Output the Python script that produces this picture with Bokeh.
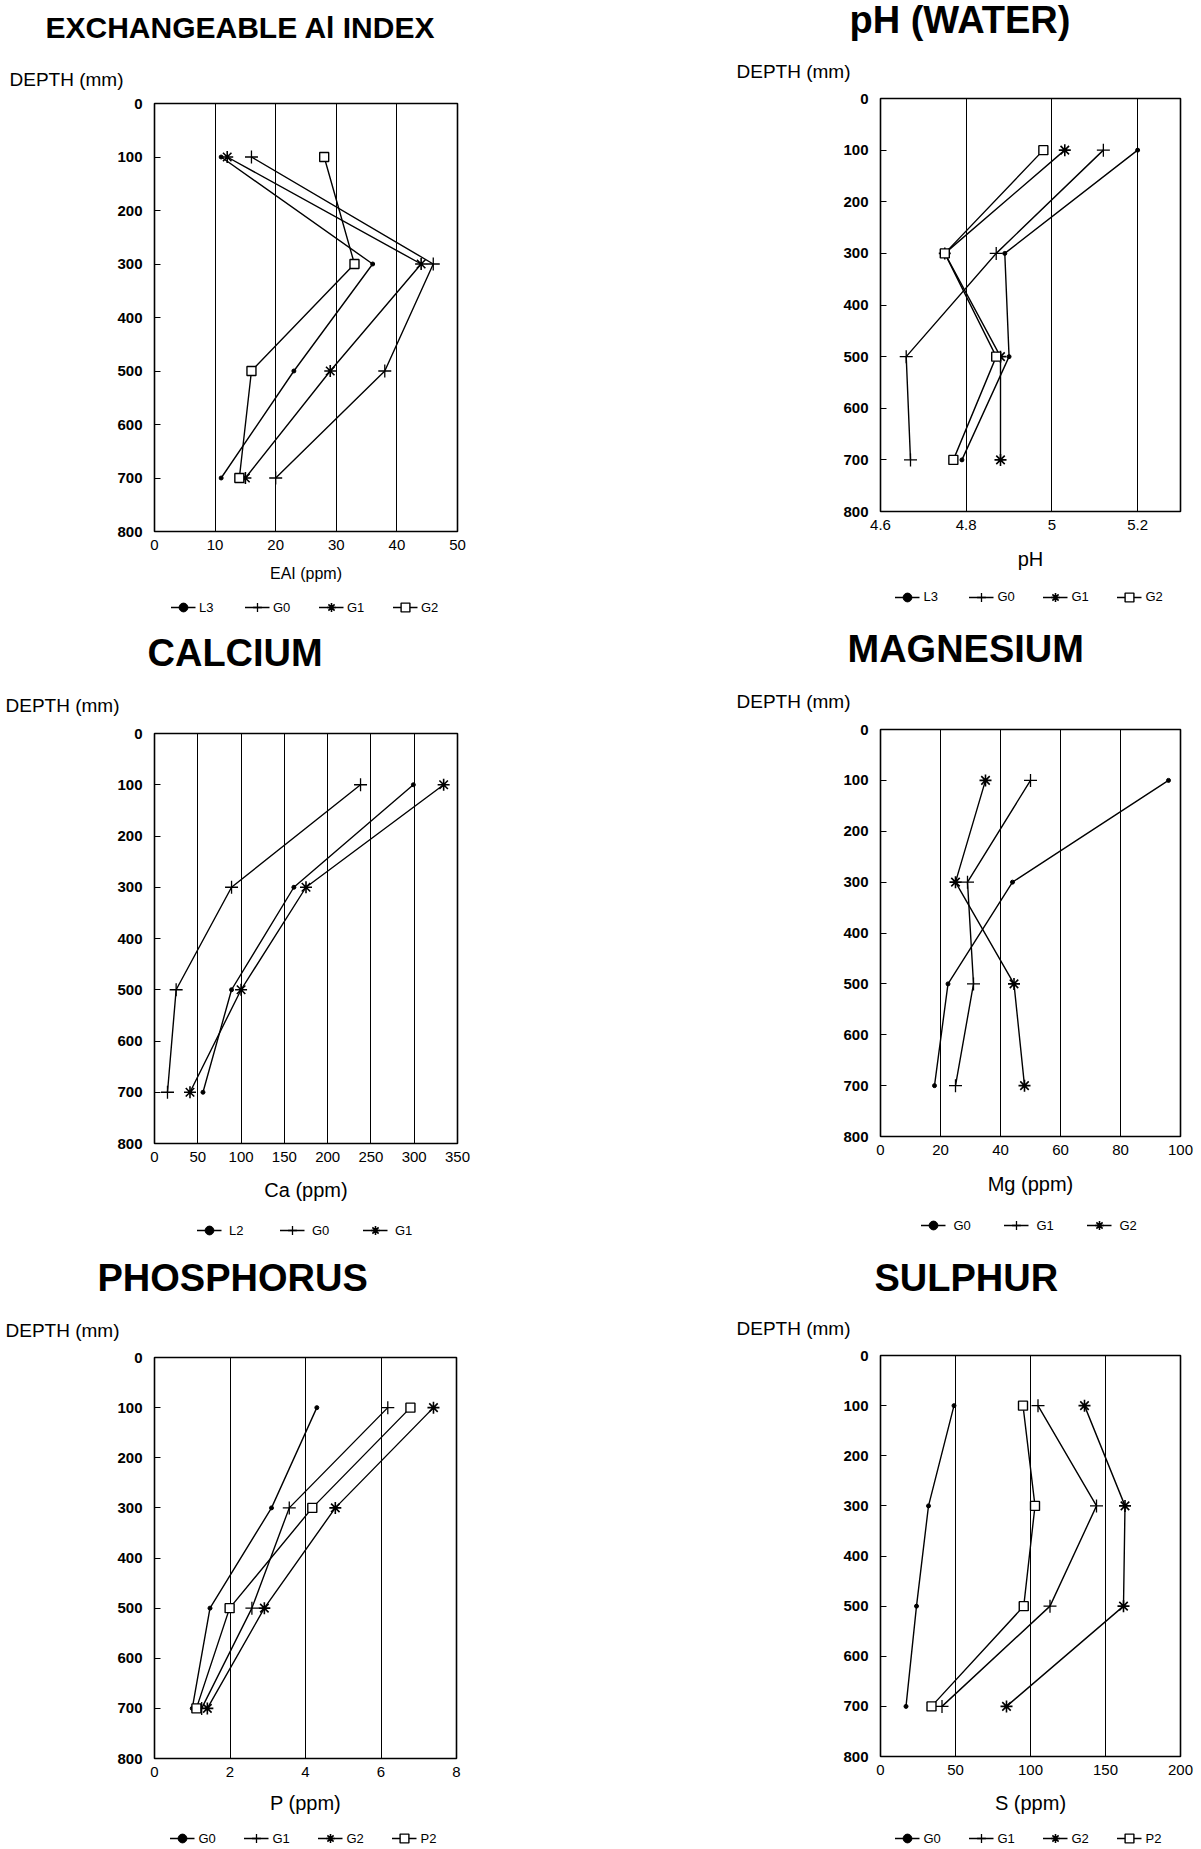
import math
from bokeh.plotting import figure
from bokeh.models import Legend, LegendItem, FixedTicker, Range1d, Title
from bokeh.layouts import column, row
from bokeh.embed import file_html
from bokeh.resources import INLINE

# ---------------- data ----------------
DEPTH = [100, 300, 500, 700]
DEPTH_TICKS = [0, 100, 200, 300, 400, 500, 600, 700, 800]

EAI_TICKS = [0, 10, 20, 30, 40, 50]
EAI_TICK_LABELS = ["0", "10", "20", "30", "40", "50"]
EAI_NAMES = ["L3", "G0", "G1", "G2"]
EAI_L3 = [11.0, 36.0, 23.0, 11.0]
EAI_G0 = [16.0, 46.0, 38.0, 20.0]
EAI_G1 = [12.0, 44.0, 29.0, 15.0]
EAI_G2 = [28.0, 33.0, 16.0, 14.0]

PH_TICKS = [4.6, 4.8, 5.0, 5.2]
PH_TICK_LABELS = ["4.6", "4.8", "5", "5.2"]
PH_NAMES = ["L3", "G0", "G1", "G2"]
PH_L3 = [5.20, 4.89, 4.90, 4.79]
PH_G0 = [5.12, 4.87, 4.66, 4.67]
PH_G1 = [5.03, 4.75, 4.88, 4.88]
PH_G2 = [4.98, 4.75, 4.87, 4.77]

CA_TICKS = [0, 50, 100, 150, 200, 250, 300, 350]
CA_TICK_LABELS = ["0", "50", "100", "150", "200", "250", "300", "350"]
CA_NAMES = ["L2", "G0", "G1"]
CA_L2 = [299, 161, 89, 56]
CA_G0 = [238, 89, 25, 15]
CA_G1 = [334, 175, 100, 41]

MG_TICKS = [0, 20, 40, 60, 80, 100]
MG_TICK_LABELS = ["0", "20", "40", "60", "80", "100"]
MG_NAMES = ["G0", "G1", "G2"]
MG_G0 = [96.0, 44.0, 22.5, 18.0]
MG_G1 = [50.0, 29.0, 31.0, 25.0]
MG_G2 = [35.0, 25.0, 44.5, 48.0]

P_TICKS = [0, 2, 4, 6, 8]
P_TICK_LABELS = ["0", "2", "4", "6", "8"]
P_NAMES = ["G0", "G1", "G2", "P2"]
P_G0 = [4.30, 3.10, 1.47, 1.00]
P_G1 = [6.18, 3.57, 2.58, 1.25]
P_G2 = [7.39, 4.79, 2.91, 1.40]
P_P2 = [6.78, 4.18, 1.99, 1.11]

S_TICKS = [0, 50, 100, 150, 200]
S_TICK_LABELS = ["0", "50", "100", "150", "200"]
S_NAMES = ["G0", "G1", "G2", "P2"]
S_G0 = [49, 32, 24, 17]
S_G1 = [105, 144, 113, 41]
S_G2 = [136, 163, 162, 84]
S_P2 = [95, 103, 95.5, 34]

# ---------------- styling ----------------
FONT = "Liberation Sans"
TITLE_FONT = "Liberation Sans"
EM = 1.117
DESC = 0.212
DEPTH_FS = 19
LEG_GLYPH_H = 22

MARKER_STYLE = {
    "dot": dict(marker="circle", size=4, fill_color="black", line_color="black"),
    "plus": dict(marker="cross", size=13, line_color="black", line_width=1.3),
    "star": dict(marker="asterisk", size=12, line_color="black", line_width=1.6),
    "square": dict(marker="square", size=9, fill_color="white", line_color="black", line_width=1.4),
}

ROW_W_LEFT = 593
PAGE_W = 1201


def make_panel(spec):
    (title, title_fs, xlabel, xlabel_fs, x_end, ticks, tick_labels, names, series, markers,
     col, row_top, row_h, f_left, f_top, f_w, f_h,
     title_left, title_base, depth_left, depth_mid, label_mid, leg_mid, leg_spacing, leg_standoff) = spec

    fig_left = 0 if col == 0 else ROW_W_LEFT
    W = ROW_W_LEFT if col == 0 else PAGE_W - ROW_W_LEFT
    bl = f_left - fig_left
    bt = f_top - row_top
    br = W - bl - f_w
    bb = row_h - bt - f_h

    tick_h = EM * 15
    lab_h = EM * xlabel_fs
    st = max(0, round(label_mid - 8 - tick_h - lab_h / 2))
    axis_h = 8 + tick_h + st + lab_h
    bb1 = max(math.ceil(axis_h) + 1, min(2 * leg_mid - bb, bb - LEG_GLYPH_H))
    LH = bb - bb1

    p = figure(frame_width=f_w, frame_height=f_h, title=None,
               x_range=Range1d(ticks[0], x_end), y_range=Range1d(800, 0),
               output_backend="svg", toolbar_location=None,
               min_border_left=bl, min_border_top=bt,
               min_border_right=br, min_border_bottom=bb1)
    p.background_fill_color = "white"
    p.border_fill_color = "white"
    p.outline_line_color = "black"
    p.outline_line_width = 1.6

    p.xaxis.ticker = FixedTicker(ticks=ticks)
    p.xaxis.major_label_overrides = {t: lab for t, lab in zip(ticks, tick_labels)}
    p.xaxis.major_tick_in = 0
    p.xaxis.major_tick_out = 0
    p.xaxis.minor_tick_line_color = None
    p.xaxis.major_label_standoff = 8
    p.xaxis.major_label_text_font = FONT
    p.xaxis.major_label_text_font_size = "15px"
    p.xaxis.major_label_text_color = "black"
    p.xaxis.axis_label = xlabel
    p.xaxis.axis_label_text_font = FONT
    p.xaxis.axis_label_text_font_style = "normal"
    p.xaxis.axis_label_text_font_size = f"{xlabel_fs}px"
    p.xaxis.axis_label_text_color = "black"
    p.xaxis.axis_label_standoff = st

    p.yaxis.ticker = FixedTicker(ticks=DEPTH_TICKS)
    p.yaxis.major_tick_in = 6
    p.yaxis.major_tick_out = 0
    p.yaxis.minor_tick_line_color = None
    p.yaxis.major_label_standoff = 12
    p.yaxis.major_label_text_font = FONT
    p.yaxis.major_label_text_font_style = "bold"
    p.yaxis.major_label_text_font_size = "15px"
    p.yaxis.major_label_text_color = "black"

    p.xgrid.ticker = FixedTicker(ticks=ticks)
    p.xgrid.grid_line_color = "black"
    p.ygrid.grid_line_color = None

    for xs, mk in zip(series, markers):
        p.line(xs, DEPTH, line_color="black", line_width=1.4)
        p.scatter(xs, DEPTH, **MARKER_STYLE[mk])

    # above: DEPTH title next to the frame, main title above it
    h1 = EM * DEPTH_FS
    h2 = EM * title_fs
    d2 = DESC * title_fs
    B = f_top - title_base
    C = f_top - depth_mid
    choice = None
    for c in (C, C - 1, C - 2, C - 3):
        P = 2 * c + 2
        s_b = 2 * (B - P - d2)
        if s_b >= 0 and P + 2 + h2 + s_b <= bt + 0.5:
            choice = (c, "bottom", s_b)
            break
        s_t = 2 * (B - P - 2 - d2)
        if s_t >= 0 and P + 2 + h2 + s_t <= bt + 0.5:
            choice = (c, "top", s_t)
            break
    if choice is None:
        P = 2 * C + 2
        s_t = min(2 * (B - P - 2 - d2), bt - P - 2 - h2)
        choice = (C, "top", s_t)
    c, va, s2 = choice
    s1 = 2 * c - h1
    p.add_layout(Title(text="DEPTH (mm)", align="left", offset=depth_left - f_left,
                       vertical_align="bottom", standoff=s1,
                       text_font=FONT, text_font_size=f"{DEPTH_FS}px",
                       text_font_style="normal", text_color="black"), "above")
    p.add_layout(Title(text=title, align="left", offset=title_left - f_left,
                       vertical_align=va, standoff=s2,
                       text_font=TITLE_FONT, text_font_size=f"{title_fs}px",
                       text_font_style="bold", text_color="black"), "above")

    # legend strip below the plot, its frame aligned with the plot frame.
    # The same series are drawn here outside this strip's visible y-range,
    # so only the legend shows.
    lf = figure(frame_width=f_w, frame_height=LH, title=None,
                x_axis_type=None, y_axis_type=None,
                x_range=Range1d(ticks[0], x_end), y_range=Range1d(-2, -1),
                output_backend="svg", toolbar_location=None,
                min_border_left=bl, min_border_right=br,
                min_border_top=0, min_border_bottom=0)
    lf.outline_line_color = None
    lf.background_fill_color = "white"
    lf.border_fill_color = "white"
    items = []
    for name, xs, mk in zip(names, series, markers):
        ln = lf.line(xs, DEPTH, line_color="black", line_width=1.4)
        sc = lf.scatter(xs, DEPTH, **MARKER_STYLE[mk])
        items.append(LegendItem(label=name, renderers=[ln, sc]))
    legend = Legend(items=items, orientation="horizontal",
                    location="center", border_line_color=None,
                    background_fill_alpha=0, padding=0, margin=0,
                    glyph_width=25, glyph_height=LEG_GLYPH_H, label_height=14,
                    label_standoff=leg_standoff, spacing=leg_spacing,
                    label_text_font=FONT, label_text_font_size="13px",
                    label_text_color="black")
    lf.add_layout(legend, "center")
    return [p, lf]


SPECS = [
    # title, fs, xlabel, fs, x_end, ticks, labels, names, series, markers,
    # col, row_top, row_h, f_left, f_top, f_w, f_h,
    # title_left, title_baseline, depth_left, depth_mid, label_mid, legend_mid, spacing, standoff
    ("EXCHANGEABLE Al INDEX", 30, "EAI (ppm)", 16, 50, EAI_TICKS, EAI_TICK_LABELS, EAI_NAMES,
     [EAI_L3, EAI_G0, EAI_G1, EAI_G2], ["dot", "plus", "star", "square"],
     0, 0, 618, 154, 103, 303, 428, 45, 37, 9, 79, 46, 77, 25, 4),
    ("pH (WATER)", 38, "pH", 20, 5.3, PH_TICKS, PH_TICK_LABELS, PH_NAMES,
     [PH_L3, PH_G0, PH_G1, PH_G2], ["dot", "plus", "star", "square"],
     1, 0, 618, 880, 98, 300, 413, 849, 33, 736, 71, 51, 84, 25, 4),
    ("CALCIUM", 38, "Ca (ppm)", 20, 350, CA_TICKS, CA_TICK_LABELS, CA_NAMES,
     [CA_L2, CA_G0, CA_G1], ["dot", "plus", "star"],
     0, 618, 627, 154, 733, 303, 410, 147, 665, 5, 705, 50, 87, 30, 8),
    ("MAGNESIUM", 38, "Mg (ppm)", 20, 100, MG_TICKS, MG_TICK_LABELS, MG_NAMES,
     [MG_G0, MG_G1, MG_G2], ["dot", "plus", "star"],
     1, 618, 627, 880, 729, 300, 407, 847, 661, 736, 700, 51, 89, 30, 8),
    ("PHOSPHORUS", 38, "P (ppm)", 20, 8, P_TICKS, P_TICK_LABELS, P_NAMES,
     [P_G0, P_G1, P_G2, P_P2], ["dot", "plus", "star", "square"],
     0, 1245, 604, 154, 1357, 302, 401, 97, 1290, 5, 1330, 48, 82, 25, 4),
    ("SULPHUR", 38, "S (ppm)", 20, 200, S_TICKS, S_TICK_LABELS, S_NAMES,
     [S_G0, S_G1, S_G2, S_P2], ["dot", "plus", "star", "square"],
     1, 1245, 604, 880, 1355, 300, 401, 874, 1290, 736, 1328, 50, 82, 25, 4),
]

figs = [make_panel(s) for s in SPECS]
left_col = column(*figs[0], *figs[2], *figs[4])
right_col = column(*figs[1], *figs[3], *figs[5])
layout = row(left_col, right_col)
open("out.html", "w").write(file_html(layout, INLINE))
